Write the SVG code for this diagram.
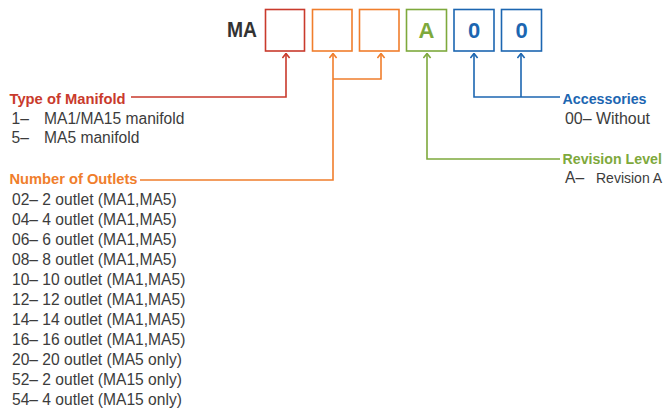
<svg xmlns="http://www.w3.org/2000/svg" width="668" height="409" viewBox="0 0 668 409">
<defs>
<style>
.box{fill:#fff;stroke-width:1.6}
.ln{fill:none;stroke-width:1.6}
.red{stroke:#c93a2c}.org{stroke:#f07e2c}.grn{stroke:#7ea93c}.blu{stroke:#1c66b1}
.t{font-family:"Liberation Sans",Arial,sans-serif;font-size:15.6px;fill:#3c3c3c}
.h{font-family:"Liberation Sans",Arial,sans-serif;font-size:15px;font-weight:bold}
.bl{font-family:"Liberation Sans",Arial,sans-serif;font-size:22px;font-weight:bold;text-anchor:middle}
</style>
<marker id="ar-r" viewBox="0 0 10 10" refX="5" refY="1" markerWidth="9" markerHeight="9" markerUnits="userSpaceOnUse" orient="0"><path d="M1,6 L5,1 L9,6" fill="none" stroke="#c93a2c" stroke-width="1.8"/></marker>
<marker id="ar-o" viewBox="0 0 10 10" refX="5" refY="1" markerWidth="9" markerHeight="9" markerUnits="userSpaceOnUse" orient="0"><path d="M1,6 L5,1 L9,6" fill="none" stroke="#f07e2c" stroke-width="1.8"/></marker>
<marker id="ar-g" viewBox="0 0 10 10" refX="5" refY="1" markerWidth="9" markerHeight="9" markerUnits="userSpaceOnUse" orient="0"><path d="M1,6 L5,1 L9,6" fill="none" stroke="#7ea93c" stroke-width="1.8"/></marker>
<marker id="ar-b" viewBox="0 0 10 10" refX="5" refY="1" markerWidth="9" markerHeight="9" markerUnits="userSpaceOnUse" orient="0"><path d="M1,6 L5,1 L9,6" fill="none" stroke="#1c66b1" stroke-width="1.8"/></marker>
</defs>
<rect width="668" height="409" fill="#fff"/>

<g id="code">
<text x="227" y="37" font-family="Liberation Sans, Arial, sans-serif" font-size="22" font-weight="bold" fill="#333" textLength="30" lengthAdjust="spacingAndGlyphs">MA</text>
<rect class="box red" x="265.5" y="9.5" width="39" height="41.5"/>
<rect class="box org" x="312.5" y="9.5" width="39.5" height="41.5"/>
<rect class="box org" x="359.5" y="9.5" width="39.5" height="41.5"/>
<rect class="box grn" x="406.5" y="9.5" width="40" height="41.5"/>
<text class="bl" x="426.5" y="37.5" fill="#7ea93c">A</text>
<rect class="box blu" x="454" y="9.5" width="40" height="41.5"/>
<text class="bl" x="474" y="37.5" fill="#1c66b1">0</text>
<rect class="box blu" x="501.5" y="9.5" width="40" height="41.5"/>
<text class="bl" x="521.5" y="37.5" fill="#1c66b1">0</text>
</g>

<g id="connectors">
<path class="ln red" d="M131,97 H286 V53.5" marker-end="url(#ar-r)"/>
<path class="ln org" d="M140,180 H333 V53.5" marker-end="url(#ar-o)"/>
<path class="ln org" d="M333,79 H381 V53.5" marker-end="url(#ar-o)"/>
<path class="ln grn" d="M560,159 H427 V53.5" marker-end="url(#ar-g)"/>
<path class="ln blu" d="M560,97 H474 V53.5" marker-end="url(#ar-b)"/>
<path class="ln blu" d="M521,97 V53.5" marker-end="url(#ar-b)"/>
</g>

<g id="type-of-manifold">
<text class="h" x="9.5" y="104" fill="#c93a2c" textLength="116" lengthAdjust="spacingAndGlyphs">Type of Manifold</text>
<text class="t" x="11.5" y="123.5">1–</text><text class="t" x="44" y="123.5">MA1/MA15 manifold</text>
<text class="t" x="11.5" y="143">5–</text><text class="t" x="44" y="143">MA5 manifold</text>
</g>

<g id="number-of-outlets">
<text class="h" x="9.5" y="183.5" fill="#f07e2c" textLength="128" lengthAdjust="spacingAndGlyphs">Number of Outlets</text>
<text class="t" x="12" y="204.5">02– 2 outlet (MA1,MA5)</text>
<text class="t" x="12" y="224.5">04– 4 outlet (MA1,MA5)</text>
<text class="t" x="12" y="244.5">06– 6 outlet (MA1,MA5)</text>
<text class="t" x="12" y="264.5">08– 8 outlet (MA1,MA5)</text>
<text class="t" x="12" y="284.5">10– 10 outlet (MA1,MA5)</text>
<text class="t" x="12" y="304.5">12– 12 outlet (MA1,MA5)</text>
<text class="t" x="12" y="324.5">14– 14 outlet (MA1,MA5)</text>
<text class="t" x="12" y="344.5">16– 16 outlet (MA1,MA5)</text>
<text class="t" x="12" y="364.5">20– 20 outlet (MA5 only)</text>
<text class="t" x="12" y="384.5">52– 2 outlet (MA15 only)</text>
<text class="t" x="12" y="404.5">54– 4 outlet (MA15 only)</text>
</g>

<g id="accessories">
<text class="h" x="562.5" y="104" fill="#1c66b1" textLength="84" lengthAdjust="spacingAndGlyphs">Accessories</text>
<text class="t" x="565" y="123.5" textLength="85" lengthAdjust="spacingAndGlyphs">00– Without</text>
</g>

<g id="revision-level">
<text class="h" x="562.5" y="164" fill="#7ea93c" style="font-size:14.2px">Revision Level</text>
<text class="t" x="565" y="183">A–</text><text class="t" x="596" y="183" style="font-size:14px">Revision A</text>
</g>
</svg>
